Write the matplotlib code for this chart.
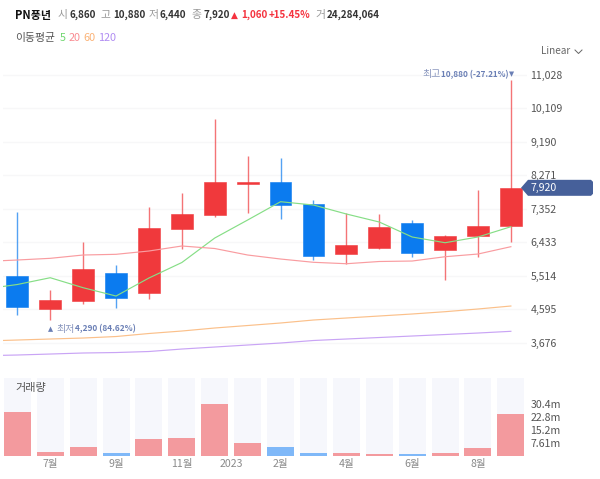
import matplotlib
matplotlib.use("Agg")
import matplotlib.pyplot as plt
from matplotlib.patches import Polygon

plt.rcParams['font.family'] = ['Noto Sans CJK KR', 'DejaVu Sans']

opens  = [5501, 4609, 4829, 5597, 5048, 6790, 7174, 8024, 8093, 7476, 6091, 6269, 6955, 6214, 6612, 6860]
highs  = [7256, 5117, 6447, 5803, 7394, 7778, 9807, 8792, 8738, 7599, 7229, 7202, 7037, 6625, 7860, 10880]
lows   = [4431, 4290, 4733, 4637, 4884, 6255, 7106, 7243, 7078, 5940, 5830, 6255, 6022, 5391, 6022, 6440]
closes = [4664, 4842, 5693, 4911, 6817, 7202, 8079, 8093, 7448, 6049, 6351, 6845, 6145, 6598, 6859, 7920]
volumes = [25.9, 2.1, 5.1, 1.9, 9.8, 10.7, 30.4, 7.6, 5.1, 1.9, 1.9, 1.0, 1.0, 1.6, 4.7, 24.28]
volume_up = [True, True, True, False, True, True, True, True, False, False, True, True, False, True, True, True]

# moving averages: first value is the one just before the visible window
ma_x = list(range(-1, 16))
ma5   = [5144, 5268, 5454, 5180, 4952, 5446, 5871, 6543, 7037, 7539, 7448, 7202, 6982, 6571, 6414, 6571, 6853]
ma20  = [5899, 5940, 5986, 6077, 6096, 6187, 6324, 6255, 6077, 5967, 5877, 5838, 5899, 5912, 6030, 6104, 6305]
ma60  = [3718, 3745, 3773, 3800, 3841, 3924, 3992, 4075, 4143, 4212, 4294, 4349, 4404, 4459, 4522, 4596, 4678]
ma120 = [3315, 3334, 3361, 3389, 3402, 3430, 3498, 3553, 3608, 3663, 3732, 3773, 3814, 3855, 3896, 3937, 3984]

price_ticks = [11028, 10109, 9190, 8271, 7352, 6433, 5514, 4595, 3676]
vol_ticks = [30.4, 22.8, 15.2, 7.61]
vol_tick_labels = ['30.4m', '22.8m', '15.2m', '7.61m']
month_pos = [1, 3, 5, 6.5, 8, 10, 12, 14]
month_labels = ['7월', '9월', '11월', '2023', '2월', '4월', '6월', '8월']

RED, BLUE = '#F0393C', '#0B7BEF'
W, H = 600, 479
fig = plt.figure(figsize=(W / 100, H / 100), dpi=100, facecolor='white')


def axes_px(l, t, r, b):
    return fig.add_axes([l / W, 1 - b / H, (r - l) / W, (b - t) / H])


def label(x, y, s, color='#333333', size=7.6, weight='normal', ha='left'):
    fig.text(x / W, 1 - y / H, s, color=color, fontsize=size, fontweight=weight,
             ha=ha, va='center')


xlim = (-0.435, 15.49)
ax = axes_px(3, 60, 527, 365)
ax.set_xlim(*xlim)
ax.set_ylim(3060, 11426)
ax.set_yticks(price_ticks)
ax.set_yticklabels([f'{t:,}' for t in price_ticks])
ax.yaxis.tick_right()
ax.tick_params(axis='y', length=0, pad=2.5, labelsize=7.6, labelcolor='#555555')
ax.set_xticks([])
ax.grid(axis='y', color='#F7F7F8', lw=1)
ax.set_axisbelow(True)
for s in ax.spines.values():
    s.set_visible(False)

for i in range(16):
    up = closes[i] >= opens[i]
    c = RED if up else BLUE
    ax.vlines(i, lows[i], highs[i], color=c, lw=1.0, alpha=0.7, zorder=2)
    ax.bar(i, abs(closes[i] - opens[i]), bottom=min(opens[i], closes[i]), width=0.66,
           color=c, edgecolor=c, lw=0.4, zorder=3)

ax.plot(ma_x, ma5, color='#86DE86', lw=0.85, zorder=4)
ax.plot(ma_x, ma20, color='#F99CA0', lw=0.85, zorder=4)
ax.plot(ma_x, ma60, color='#FBC08A', lw=0.85, zorder=4)
ax.plot(ma_x, ma120, color='#C9A4F5', lw=0.85, zorder=4)

# volume panel
vax = axes_px(3, 378, 527, 456)
vax.set_xlim(*xlim)
vax.set_ylim(0, 45.6)
vax.bar(range(16), [45.6] * 16, width=0.82, color='#F6F7FC', zorder=1)
vax.bar(range(16), volumes, width=0.82,
        color=['#F39A9E' if u else '#7FB8F8' for u in volume_up], zorder=2)
vax.set_yticks(vol_ticks)
vax.set_yticklabels(vol_tick_labels)
vax.yaxis.tick_right()
vax.tick_params(axis='y', length=0, pad=2.5, labelsize=7.6, labelcolor='#555555')
vax.set_xticks(month_pos)
vax.set_xticklabels(month_labels)
vax.tick_params(axis='x', length=0, pad=2, labelsize=7.6, labelcolor='#8A8A8A')
for s in vax.spines.values():
    s.set_visible(False)

# header
label(15, 15, 'PN풍년', '#111111', 8, 'bold')
GR, DK, UP = '#9A9A9A', '#333333', '#F5333F'
for x, s, c, w, sz in [(58, '시', GR, 'normal', 7.8), (70, '6,860', DK, 'bold', 7.1),
                       (100, '고', GR, 'normal', 7.8), (113, '10,880', DK, 'bold', 7.1),
                       (149, '저', GR, 'normal', 7.8), (160, '6,440', DK, 'bold', 7.1),
                       (191, '종', GR, 'normal', 7.8), (203, '7,920', DK, 'bold', 7.1),
                       (241, '1,060', UP, 'bold', 7.1), (269, '+15.45%', UP, 'bold', 7.1),
                       (315, '거', GR, 'normal', 7.8), (327, '24,284,064', DK, 'bold', 7.1)]:
    label(x, 15, s, c, sz, w)
fig.text(231 / W, 1 - 15.5 / H, '▲', color=UP, fontsize=6.5, ha='left', va='center',
         family=['DejaVu Sans'])
label(15, 38, '이동평균', '#555555', 7.8)
for x, s, c in [(60, '5', '#6FD66F'), (69, '20', '#F98C92'), (83, '60', '#FBB276'), (98, '120', '#B08CF2')]:
    label(x, 38, s, c, 7.8)
label(541, 51, 'Linear', '#666666', 7.2)
fig.add_artist(plt.Line2D([575 / W, 578.5 / W, 582 / W], [1 - 50 / H, 1 - 53.5 / H, 1 - 50 / H],
                          color='#666666', lw=0.7))

# high / low notes
NOTE, NOTE_L = '#6A7FB5', '#8A97BE'
label(422, 74, '최고', NOTE_L, 7.2)
label(441, 74.5, '10,880 (-27.21%)', NOTE, 5.9, 'bold')
fig.text(508.5 / W, 1 - 74.5 / H, '▼', color=NOTE, fontsize=4.8, ha='left', va='center', family=['DejaVu Sans'])
fig.text(48 / W, 1 - 329 / H, '▲', color=NOTE, fontsize=4.8, ha='left', va='center', family=['DejaVu Sans'])
label(56, 329, '최저', NOTE_L, 7.2)
label(75, 329, '4,290 (84.62%)', NOTE, 6.0, 'bold')

label(15, 388, '거래량', '#555555', 8)

# current price tag
fig.canvas.draw()
py = ax.transData.transform((0, closes[-1]))[1]
pts = [(521, py), (528, py + 8), (591, py + 8), (593, py + 6), (593, py - 6), (591, py - 8), (528, py - 8)]
fig.add_artist(Polygon([(a / W, b / H) for a, b in pts], closed=True, facecolor='#46609A',
                       edgecolor='none', transform=fig.transFigure))
fig.text(531 / W, py / H, f'{closes[-1]:,}', color='white', fontsize=7.6, ha='left', va='center')

fig.savefig('out.png', dpi=100)
